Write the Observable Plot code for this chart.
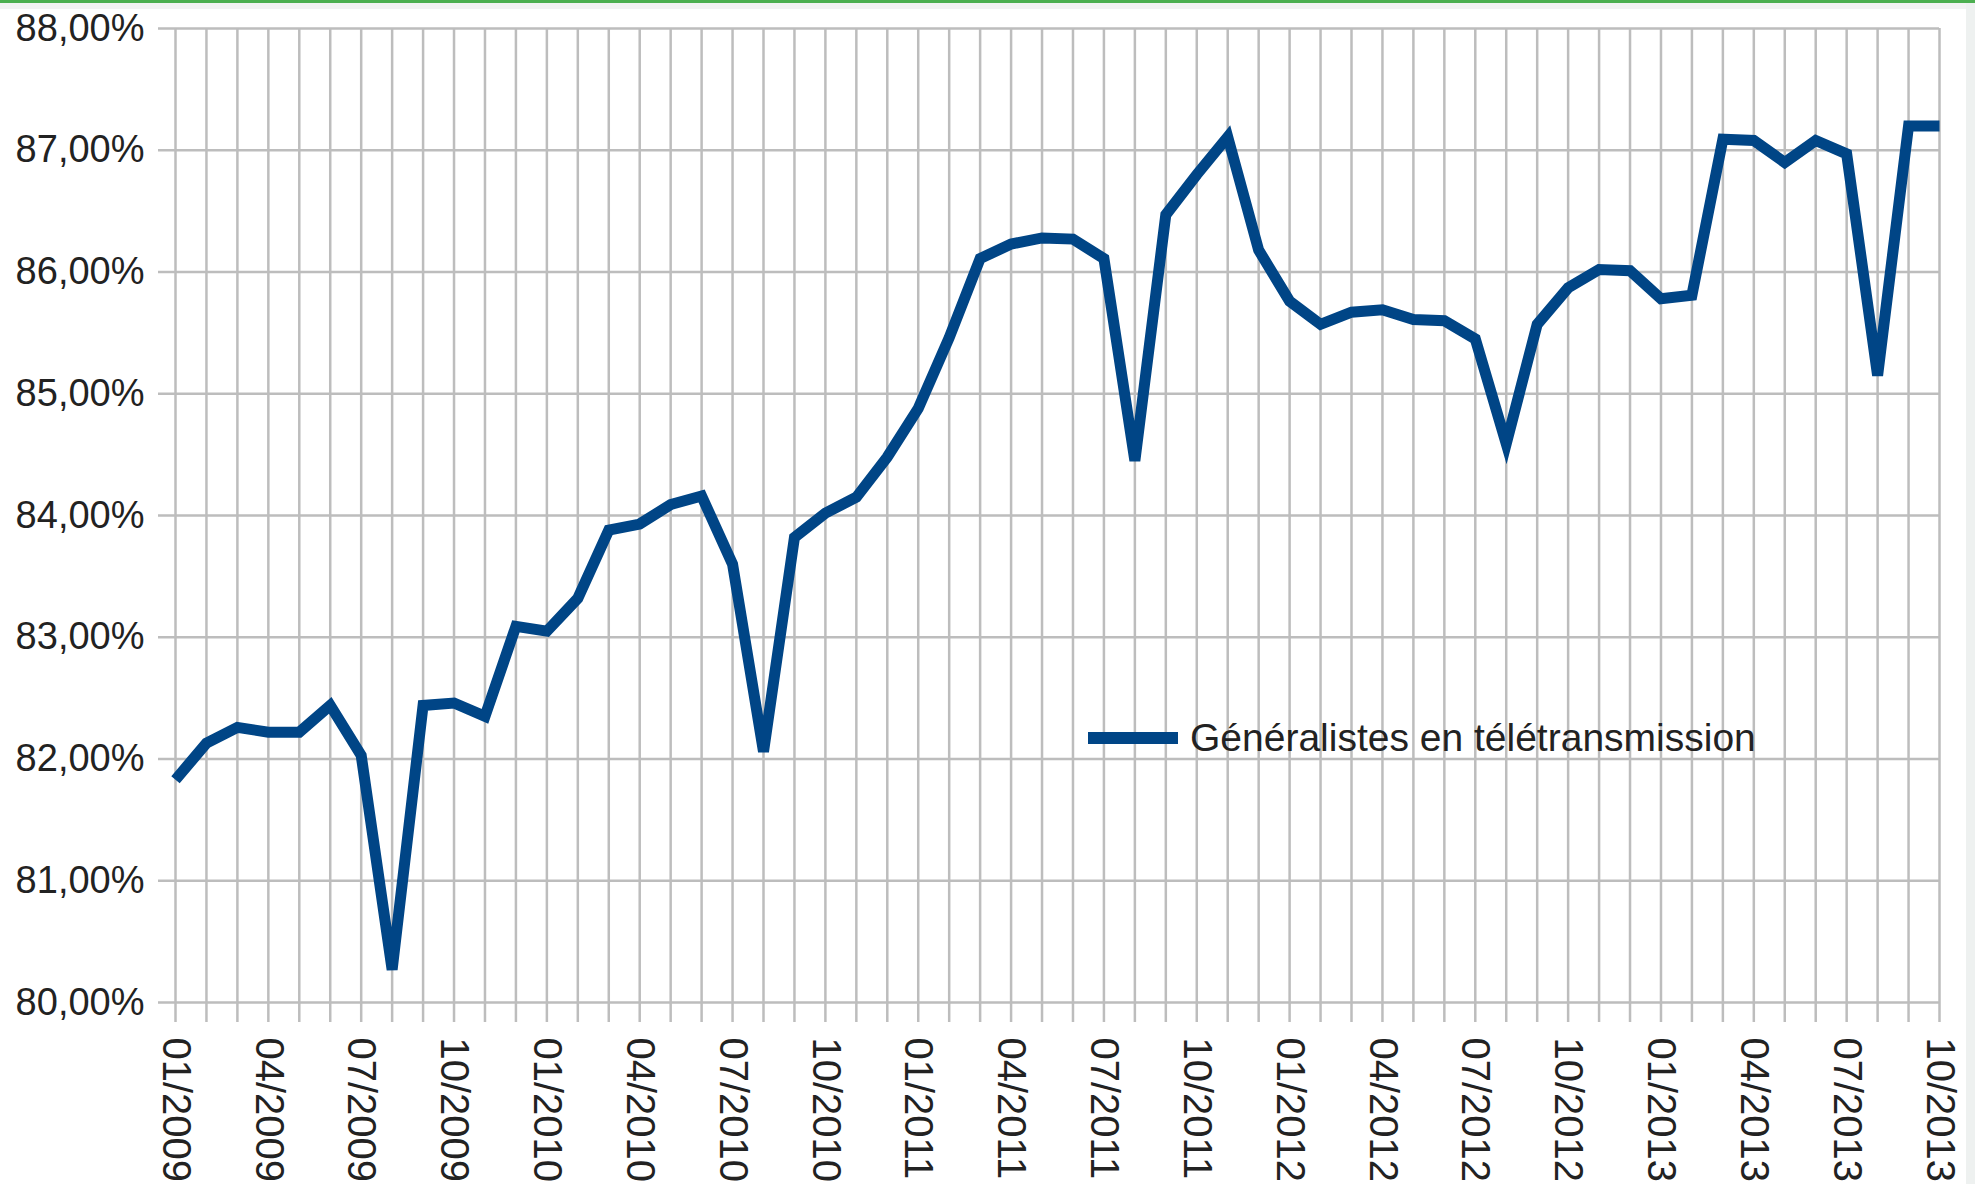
<!DOCTYPE html>
<html>
<head>
<meta charset="utf-8">
<script src="https://cdn.jsdelivr.net/npm/d3@7"></script>
<script src="https://cdn.jsdelivr.net/npm/@observablehq/plot@0.6"></script>
<style>
  html, body { margin: 0; padding: 0; background: #ffffff; }
  #wrap { position: relative; width: 1975px; height: 1184px; overflow: hidden;
          font-family: "Liberation Sans", Arial, sans-serif; background: #ffffff; }
  #topline { position: absolute; left: 0; top: 0; width: 1975px; height: 3px; background: #4caf50; }
  #topband { position: absolute; left: 0; top: 3px; width: 1975px; height: 6px; background: #f3f3f3; }
  #rightband { position: absolute; left: 1966px; top: 3px; width: 9px; height: 1181px; background: #eef1f0; }
  #legend { position: absolute; left: 1088px; top: 712px; height: 52px; display: flex; align-items: center;
            font-size: 39px; color: #222222; white-space: nowrap; }
  #legend .sw { width: 90px; height: 12px; background: #004586; margin-right: 12px; }
  svg { position: absolute; left: 0; top: 0; }
</style>
</head>
<body>
<div id="wrap">
  <div id="topline"></div>
  <div id="topband"></div>
  <div id="rightband"></div>
</div>
<script>
const months = [
  "01/2009","02/2009","03/2009","04/2009","05/2009","06/2009","07/2009","08/2009","09/2009","10/2009","11/2009","12/2009",
  "01/2010","02/2010","03/2010","04/2010","05/2010","06/2010","07/2010","08/2010","09/2010","10/2010","11/2010","12/2010",
  "01/2011","02/2011","03/2011","04/2011","05/2011","06/2011","07/2011","08/2011","09/2011","10/2011","11/2011","12/2011",
  "01/2012","02/2012","03/2012","04/2012","05/2012","06/2012","07/2012","08/2012","09/2012","10/2012","11/2012","12/2012",
  "01/2013","02/2013","03/2013","04/2013","05/2013","06/2013","07/2013","08/2013","09/2013","10/2013"
];

const values = [
  81.83, 82.13, 82.26, 82.22, 82.22, 82.44, 82.03, 80.27, 82.44, 82.46, 82.35, 83.09,
  83.05, 83.32, 83.88, 83.93, 84.09, 84.16, 83.60, 82.06, 83.82, 84.02, 84.15, 84.48,
  84.88, 85.46, 86.11, 86.23, 86.28, 86.27, 86.11, 84.45, 86.47, 86.80, 87.11, 86.18,
  85.76, 85.57, 85.67, 85.69, 85.61, 85.60, 85.45, 84.59, 85.57, 85.87, 86.02, 86.01,
  85.78, 85.81, 87.09, 87.08, 86.90, 87.08, 86.97, 85.15, 87.20, 87.20
];

const tickLabels = [
  "01/2009","04/2009","07/2009","10/2009","01/2010","04/2010","07/2010","10/2010",
  "01/2011","04/2011","07/2011","10/2011","01/2012","04/2012","07/2012","10/2012",
  "01/2013","04/2013","07/2013","10/2013"
];

const yTicks = [80, 81, 82, 83, 84, 85, 86, 87, 88];

const seriesName = "Généralistes en télétransmission";

const data = months.map((m, i) => ({ month: m, value: values[i] }));

const gridColor = "#bdbdbd";

const chart = Plot.plot({
  width: 1975,
  height: 1184,
  marginLeft: 175,
  marginRight: 36,
  marginTop: 28,
  marginBottom: 182,
  style: { fontFamily: "'Liberation Sans', Arial, sans-serif", background: "transparent", color: "#222222" },
  x: { type: "point", domain: months, padding: 0, axis: null, label: null },
  y: { domain: [80, 88], axis: null, label: null },
  marks: [
    Plot.gridY(yTicks, { stroke: gridColor, strokeOpacity: 1, strokeWidth: 2.5 }),
    Plot.gridX(months, { stroke: gridColor, strokeOpacity: 1, strokeWidth: 2.5 }),
    Plot.axisY(yTicks, {
      label: null, tickSize: 17, tickPadding: 14, fontSize: 38, stroke: gridColor, strokeWidth: 2.5, fill: "#222222",
      tickFormat: d => d.toFixed(2).replace(".", ",") + "%"
    }),
    Plot.axisX(months, { label: null, tickSize: 20, tickFormat: () => "", stroke: gridColor, strokeWidth: 2.5 }),
    Plot.axisX(tickLabels, { label: null, tickSize: 0, tickRotate: 90, tickPadding: 35, fontSize: 40, fill: "#222222" }),
    Plot.line(data, {
      x: "month", y: "value", stroke: "#004586", strokeWidth: 11,
      strokeLinejoin: "miter", strokeLinecap: "butt", strokeMiterlimit: 6
    })
  ]
});

const wrap = document.getElementById("wrap");
wrap.appendChild(chart);

const legend = document.createElement("div");
legend.id = "legend";
legend.innerHTML = '<div class="sw"></div><span></span>';
legend.querySelector("span").textContent = seriesName;
wrap.appendChild(legend);
</script>
</body>
</html>
